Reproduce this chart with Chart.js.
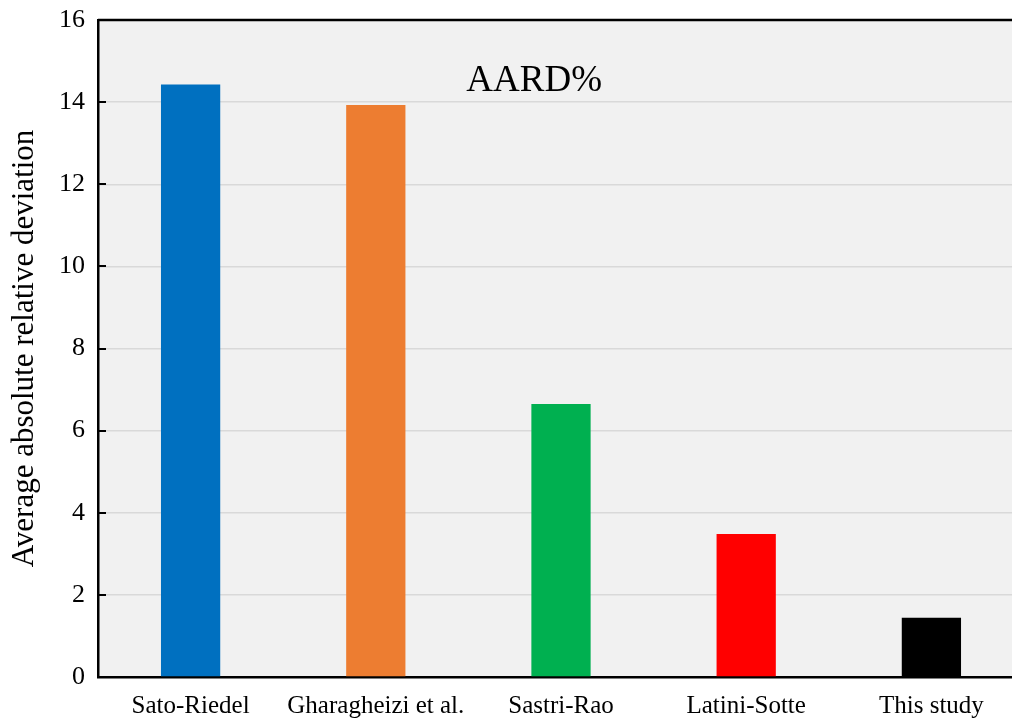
<!DOCTYPE html>
<html>
<head>
<meta charset="utf-8">
<script src="https://cdn.jsdelivr.net/npm/chart.js@4.4.1/dist/chart.umd.min.js"></script>
<style>
  html, body { margin: 0; padding: 0; background: #fff; overflow: hidden; }
  #wrap { width: 1024px; height: 720px; }
</style>
</head>
<body>
<div id="wrap"><canvas id="chart" width="1024" height="720"></canvas></div>
<script>
const categories = ["Sato-Riedel", "Gharagheizi et al.", "Sastri-Rao", "Latini-Sotte", "This study"];
const aardValues = [14.43, 13.93, 6.65, 3.48, 1.44];
const barColors = ["#0070c0", "#ed7d31", "#00b050", "#ff0000", "#000000"];
const yTicks = [0, 2, 4, 6, 8, 10, 12, 14, 16];

const FONT = "'Liberation Serif', 'Times New Roman', serif";

// grey plot background, top frame line, inward tick marks and caption
const plotFrame = {
    id: "plotFrame",
    beforeDraw(chart) {
        const { ctx, chartArea: a } = chart;
        ctx.save();
        ctx.fillStyle = "#f1f1f1";
        ctx.fillRect(a.left, a.top, a.right - a.left, a.bottom - a.top);
        ctx.restore();
    },
    afterDraw(chart) {
        const { ctx, chartArea: a } = chart;
        const y = chart.scales.y;
        ctx.save();
        ctx.strokeStyle = "#000";
        ctx.lineWidth = 2.5;
        ctx.beginPath();
        ctx.moveTo(a.left, a.top);
        ctx.lineTo(a.right, a.top);
        ctx.stroke();
        ctx.lineWidth = 2;
        ctx.beginPath();
        y.ticks.forEach(t => {
            const py = Math.round(y.getPixelForValue(t.value));
            ctx.moveTo(a.left, py);
            ctx.lineTo(a.left + 8, py);
        });
        ctx.stroke();
        ctx.fillStyle = "#000";
        ctx.font = "37px " + FONT;
        ctx.textAlign = "center";
        ctx.textBaseline = "middle";
        ctx.fillText("AARD%", a.left + (a.right - a.left) * 0.471, a.top + 61);
        ctx.restore();
    }
};

new Chart(document.getElementById("chart"), {
    type: "bar",
    data: {
        labels: categories,
        datasets: [{
            data: aardValues,
            backgroundColor: barColors,
            borderWidth: 0,
            barPercentage: 0.64,
            categoryPercentage: 0.5
        }]
    },
    options: {
        responsive: false,
        animation: false,
        layout: { padding: { top: 20, right: 0, left: 0, bottom: 0 } },
        plugins: {
            legend: { display: false },
            tooltip: { enabled: false }
        },
        scales: {
            x: {
                grid: { display: false, drawTicks: false },
                border: { display: true, color: "#000", width: 2.5 },
                ticks: {
                    color: "#000",
                    font: { family: FONT, size: 25 },
                    padding: 14,
                    maxRotation: 0
                },
                afterFit(s) { s.height = 43; s.paddingLeft = 0; s.paddingRight = 0; }
            },
            y: {
                min: 0,
                max: 16,
                afterBuildTicks(s) { s.ticks = yTicks.map(v => ({ value: v })); },
                grid: {
                    color: "#d9d9d9",
                    lineWidth: 1.5,
                    drawTicks: false,
                    drawOnChartArea: true
                },
                border: { display: true, color: "#000", width: 2.5 },
                ticks: {
                    color: "#000",
                    font: { family: FONT, size: 26 },
                    padding: 13
                },
                title: {
                    display: true,
                    text: "Average absolute relative deviation",
                    color: "#000",
                    font: { family: FONT, size: 31 },
                    padding: { top: 6, bottom: 0 }
                },
                afterFit(s) { s.width = 98; s.paddingTop = 0; s.paddingBottom = 0; }
            }
        }
    },
    plugins: [plotFrame]
});
</script>
</body>
</html>
